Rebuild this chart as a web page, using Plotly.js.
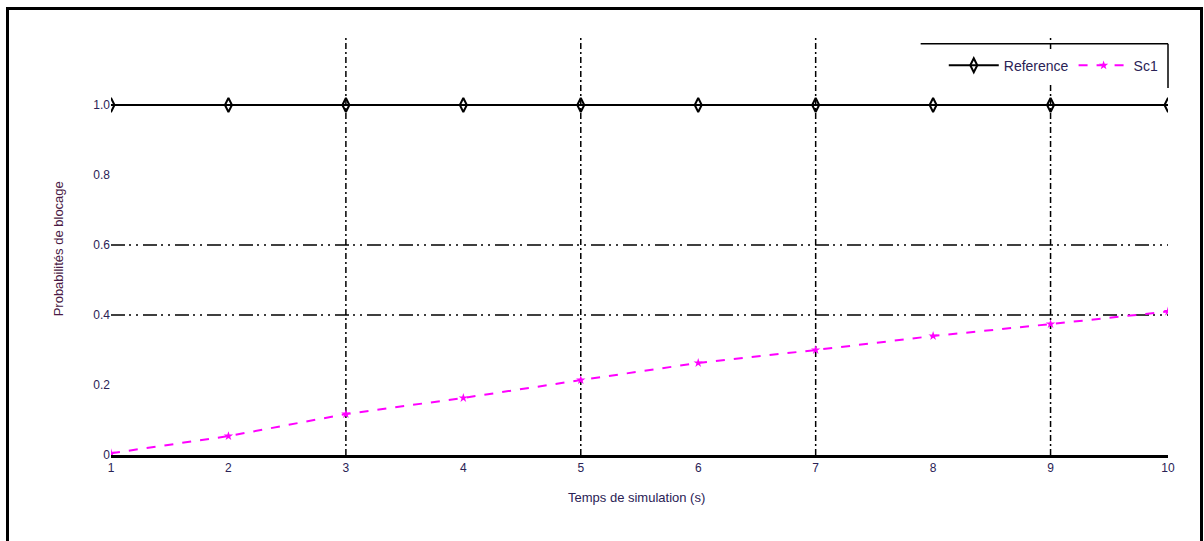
<!DOCTYPE html>
<html>
<head>
<meta charset="utf-8">
<script src="https://cdn.plot.ly/plotly-3.0.1.min.js"></script>
<style>
html,body{margin:0;padding:0;background:#fff;overflow:hidden;}
#chart{width:1204px;height:541px;}
#frame{position:absolute;left:6px;top:7px;width:1191px;height:600px;border:3px solid #000;pointer-events:none;}
</style>
</head>
<body>
<div id="chart"></div>
<div id="frame"></div>
<script>
// Data
var times = [1, 2, 3, 4, 5, 6, 7, 8, 9, 10];
var reference = [1.0, 1.0, 1.0, 1.0, 1.0, 1.0, 1.0, 1.0, 1.0, 1.0];
var sc1 = [0.005, 0.054, 0.117, 0.163, 0.214, 0.263, 0.300, 0.340, 0.374, 0.410];
var yTickVals = [0, 0.2, 0.4, 0.6, 0.8, 1.0];
var yTickText = ['0', '0.2', '0.4', '0.6', '0.8', '1.0'];
var xTickVals = [1, 2, 3, 4, 5, 6, 7, 8, 9, 10];
var gridX = [3, 5, 7, 9];
var gridY = [0.4, 0.6];
var seriesNames = ['Reference', 'Sc1'];

var txtColor = '#2a2255';
var fontFam = 'Liberation Sans, Arial, sans-serif';

var traces = [
  {
    x: times, y: reference, name: seriesNames[0], type: 'scatter', mode: 'lines+markers',
    line: {color: '#000000', width: 2},
    marker: {symbol: 'diamond-tall-open', size: 10, color: '#000000', line: {width: 2, color: '#000000'}}
  },
  {
    x: times, y: sc1, name: seriesNames[1], type: 'scatter', mode: 'lines+markers',
    line: {color: '#ff00ff', width: 2, dash: '9px,9px'},
    marker: {symbol: 'star', size: 7, color: '#ff00ff'}
  }
];

var shapes = [];
gridX.forEach(function (gx) {
  shapes.push({type: 'line', xref: 'x', yref: 'paper', x0: gx, x1: gx, y0: 0, y1: 1,
    line: {color: '#000', width: 1.5, dash: '6px,3px,2px,3px'}, layer: 'below'});
});
gridY.forEach(function (gy) {
  shapes.push({type: 'line', xref: 'paper', yref: 'y', x0: 0, x1: 1, y0: gy, y1: gy,
    line: {color: '#000', width: 1.5, dash: '14px,4px,2px,5px,2px,5px'}, layer: 'below'});
});
// legend box edges (top and right only, as in the reference)
shapes.push({type: 'line', xref: 'paper', yref: 'paper', x0: 0.766, x1: 1, y0: 0.979, y1: 0.979, line: {color: '#000', width: 1.5}});
shapes.push({type: 'line', xref: 'paper', yref: 'paper', x0: 1, x1: 1, y0: 0.979, y1: 0.874, line: {color: '#000', width: 1.5}});

var layout = {
  width: 1204, height: 541,
  margin: {l: 111, r: 36, t: 35, b: 86},
  paper_bgcolor: '#ffffff', plot_bgcolor: '#ffffff',
  font: {family: fontFam, size: 12, color: txtColor},
  showlegend: true,
  legend: {
    orientation: 'h', x: 0.996, xanchor: 'right', y: 0.965, yanchor: 'top',
    bgcolor: 'rgba(255,255,255,1)', borderwidth: 0,
    font: {family: fontFam, size: 14, color: txtColor},
    itemwidth: 50,
    tracegroupgap: 0
  },
  xaxis: {
    range: [1, 10], tickvals: xTickVals, showgrid: false, zeroline: false,
    showline: true, linecolor: '#000', linewidth: 2.5, mirror: false,
    ticks: '', ticklen: 0, tickfont: {size: 12, color: txtColor}, fixedrange: true
  },
  yaxis: {
    range: [0, 1.2], tickvals: yTickVals, ticktext: yTickText, showgrid: false, zeroline: false,
    showline: false, ticks: '', tickfont: {size: 12, color: txtColor}, fixedrange: true
  },
  shapes: shapes,
  annotations: [
    {text: 'Temps de simulation (s)', xref: 'paper', yref: 'paper', x: 0.497, y: -0.1,
      xanchor: 'center', yanchor: 'middle', showarrow: false, font: {size: 13, color: txtColor}},
    {text: 'Probabilités de blocage', xref: 'paper', yref: 'paper', x: -0.05, y: 0.49,
      xanchor: 'center', yanchor: 'middle', textangle: -90, showarrow: false, font: {size: 13, color: '#4a1a45'}}
  ]
};

Plotly.newPlot('chart', traces, layout, {displayModeBar: false, staticPlot: true});
</script>
</body>
</html>
